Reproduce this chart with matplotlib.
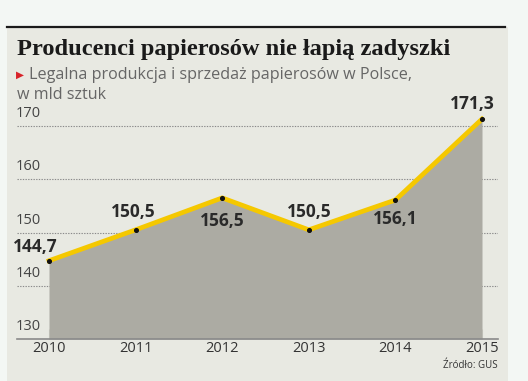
import matplotlib
matplotlib.use("Agg")
from matplotlib import pyplot as plt
from matplotlib.patches import Rectangle

years = [2010, 2011, 2012, 2013, 2014, 2015]
values = [144.7, 150.5, 156.5, 150.5, 156.1, 171.3]
labels = ["144,7", "150,5", "156,5", "150,5", "156,1", "171,3"]
y_ticks = [130, 140, 150, 160, 170]

# label offsets in points (dx, dy)
offsets = [(-10, 10), (-2, 13), (0, -17), (0, 13), (0, -14), (-7, 11)]

W, H = 528, 381
fig = plt.figure(figsize=(W / 100, H / 100), dpi=100)
fig.patch.set_facecolor("#f3f7f4")

# panel background and top rule
fig.patches.append(Rectangle((7 / W, 0), 501 / W, (H - 27) / H,
                             transform=fig.transFigure, facecolor="#e8e9e2",
                             edgecolor="none", zorder=-5))
fig.add_artist(plt.Line2D([7 / W, 505 / W], [(H - 26.5) / H] * 2,
                          transform=fig.transFigure, color="#1a1a1a", lw=1.6))

fig.text(17 / W, 1 - 50 / H, "Producenci papierosów nie łapią zadyszki",
         family="Liberation Serif", weight="bold", fontsize=17.6, color="#1a1a1a",
         va="center", ha="left")
fig.text(16 / W, 1 - 75 / H, "\u25B6", family="DejaVu Sans", fontsize=7.5,
         color="#d8232a", va="center", ha="left")
fig.text(29 / W, 1 - 75 / H, "Legalna produkcja i sprzedaż papierosów w Polsce,",
         family="Open Sans", fontsize=11.6, color="#666666", va="center", ha="left")
fig.text(17 / W, 1 - 95 / H, "w mld sztuk",
         family="Open Sans", fontsize=11.6, color="#666666", va="center", ha="left")
fig.text(498 / W, 1 - 366 / H, "Źródło: GUS", family="Open Sans", fontsize=7,
         color="#333333", va="center", ha="right")

# axes placement: x 17..498 px, y 110..339 px
ax = fig.add_axes([17 / W, (H - 339) / H, 481 / W, 229 / H])
ax.set_facecolor("none")
px_per_year = (482 - 49) / 5
ax.set_xlim(2010 - 32 / px_per_year, 2015 + 16 / px_per_year)
px_per_unit = (339 - 126) / 40
ax.set_ylim(130, 130 + 229 / px_per_unit)

for t in y_ticks[1:]:
    ax.axhline(t, color="#8a8a8a", lw=0.8, ls=(0, (1.2, 1.2)), zorder=1)
for t in y_ticks:
    ax.text(-0.002, t + 0.9, str(t), transform=ax.get_yaxis_transform(),
            fontsize=10.5, family="Open Sans", color="#444444", ha="left", va="bottom")

ax.fill_between(years, values, 130, color="#acaba3", lw=0, zorder=2)
ax.plot(years, values, color="#f5c800", lw=3.4, solid_joinstyle="miter", zorder=3)
ax.scatter(years, values, s=7, color="#111111", zorder=4)

for x, v, lab, off in zip(years, values, labels, offsets):
    ax.annotate(lab, (x, v), xytext=off, textcoords="offset points",
                ha="center", va="center", fontsize=12.5, weight="bold",
                family="Open Sans", color="#2a2a2a", zorder=5)

for s in ["top", "right", "left"]:
    ax.spines[s].set_visible(False)
ax.spines["bottom"].set_color("#8a8a8a")
ax.spines["bottom"].set_linewidth(1.2)
ax.set_yticks([])
ax.set_xticks(years)
ax.set_xticklabels([str(y) for y in years], family="Open Sans", fontsize=10.5,
                   color="#333333")
ax.tick_params(axis="x", direction="in", length=7, width=0.8, color="#d0d0c8", pad=1.5)

fig.savefig("out.png", dpi=100, facecolor=fig.get_facecolor())
